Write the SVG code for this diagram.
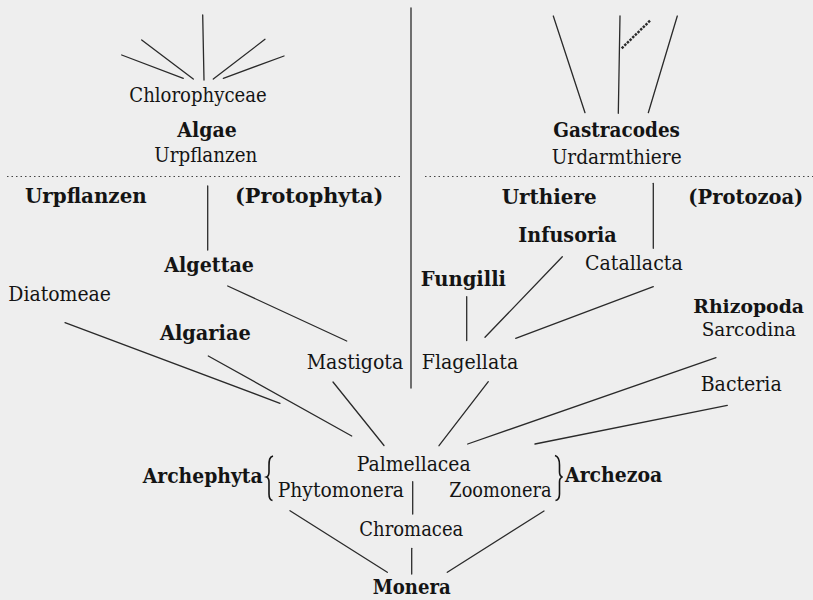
<svg xmlns="http://www.w3.org/2000/svg" width="813" height="600" viewBox="0 0 813 600">
<style>
text{font-family:"DejaVu Serif","Liberation Serif",serif;font-size:20px;fill:#141414}
.b{font-weight:bold}
.ln{stroke:#2a2a2a;stroke-width:1.3;fill:none;stroke-linecap:round}
.dot{stroke:#444;stroke-width:1.2;stroke-dasharray:1.5 3;fill:none}
.br{stroke:#141414;stroke-width:1.6;fill:none}
</style>
<rect width="813" height="600" fill="#eeeeee"/>
<g id="separators">
<line class="ln" x1="411" y1="8" x2="411" y2="388"/>
<line class="dot" x1="7" y1="176.5" x2="400" y2="176.5"/>
<line class="dot" x1="425" y1="176.5" x2="813" y2="176.5"/>
</g>
<g id="connectors">
<line class="ln" x1="121.7" y1="55" x2="183.3" y2="78.3"/>
<line class="ln" x1="141.7" y1="40" x2="193.3" y2="79"/>
<line class="ln" x1="202.7" y1="15" x2="204" y2="80"/>
<line class="ln" x1="265" y1="39.3" x2="213.3" y2="79"/>
<line class="ln" x1="284" y1="56" x2="223.3" y2="78.3"/>
<line class="ln" x1="553.3" y1="16" x2="585" y2="112.7"/>
<line class="ln" x1="620" y1="16" x2="618.3" y2="113.3"/>
<line class="ln" x1="677.3" y1="16" x2="648.3" y2="112.7"/>
<line x1="650" y1="20.7" x2="621.7" y2="48.3" stroke="#2a2a2a" stroke-width="2.4" stroke-dasharray="2.5 1.2"/>
<line class="ln" x1="207.7" y1="186" x2="207.7" y2="250"/>
<line class="ln" x1="653.3" y1="183.3" x2="653.3" y2="248.3"/>
<line class="ln" x1="227.7" y1="286" x2="346.7" y2="341"/>
<line class="ln" x1="65" y1="322.7" x2="280" y2="403.3"/>
<line class="ln" x1="208.3" y1="356" x2="351.7" y2="436"/>
<line class="ln" x1="333" y1="382" x2="384" y2="445.5"/>
<line class="ln" x1="466.7" y1="296.7" x2="466.7" y2="340.5"/>
<line class="ln" x1="562.3" y1="256.7" x2="485" y2="337.3"/>
<line class="ln" x1="653.3" y1="286.7" x2="515.7" y2="338.3"/>
<line class="ln" x1="488.3" y1="381.7" x2="439" y2="445.7"/>
<line class="ln" x1="716" y1="357.7" x2="467.7" y2="444"/>
<line class="ln" x1="727.3" y1="405.3" x2="535" y2="444"/>
<line class="ln" x1="412.7" y1="481.7" x2="412.7" y2="514"/>
<line class="ln" x1="411.7" y1="548.3" x2="411.7" y2="574"/>
<line class="ln" x1="290" y1="510.7" x2="387.3" y2="572.3"/>
<line class="ln" x1="544" y1="511" x2="447.3" y2="572.3"/>
</g>
<g id="chlorophyceae"><text x="129.3" y="101.7" textLength="137.4" lengthAdjust="spacingAndGlyphs">Chlorophyceae</text></g>
<g id="algae"><text class="b" x="177.3" y="136.7" textLength="59.4" lengthAdjust="spacingAndGlyphs">Algae</text>
<text x="154.3" y="162" textLength="103" lengthAdjust="spacingAndGlyphs">Urpflanzen</text></g>
<g id="gastracodes"><text class="b" x="553.3" y="136.7" textLength="126.7" lengthAdjust="spacingAndGlyphs">Gastracodes</text>
<text x="551.7" y="163.5" textLength="130" lengthAdjust="spacingAndGlyphs">Urdarmthiere</text></g>
<g id="urpflanzen"><text class="b" x="25" y="202.5" textLength="121.7" lengthAdjust="spacingAndGlyphs">Urpflanzen</text></g>
<g id="protophyta"><text class="b" x="235" y="202.5" textLength="148.3" lengthAdjust="spacingAndGlyphs">(Protophyta)</text></g>
<g id="urthiere"><text class="b" x="501.7" y="203.5" textLength="95" lengthAdjust="spacingAndGlyphs">Urthiere</text></g>
<g id="protozoa"><text class="b" x="688.3" y="203.5" textLength="115" lengthAdjust="spacingAndGlyphs">(Protozoa)</text></g>
<g id="infusoria"><text class="b" x="518.3" y="241.7" textLength="98.4" lengthAdjust="spacingAndGlyphs">Infusoria</text></g>
<g id="catallacta"><text x="585" y="270" textLength="97.7" lengthAdjust="spacingAndGlyphs">Catallacta</text></g>
<g id="algettae"><text class="b" x="164.3" y="272.3" textLength="89.7" lengthAdjust="spacingAndGlyphs">Algettae</text></g>
<g id="fungilli"><text class="b" x="420.7" y="285.7" textLength="85.3" lengthAdjust="spacingAndGlyphs">Fungilli</text></g>
<g id="diatomeae"><text x="8.3" y="300.7" textLength="102.7" lengthAdjust="spacingAndGlyphs">Diatomeae</text></g>
<g id="rhizopoda"><text class="b" x="693.3" y="312.5" textLength="110.7" lengthAdjust="spacingAndGlyphs" style="font-size:19px">Rhizopoda</text>
<text x="701.7" y="336" textLength="94.3" lengthAdjust="spacingAndGlyphs" style="font-size:19px">Sarcodina</text></g>
<g id="algariae"><text class="b" x="160" y="340" textLength="90.7" lengthAdjust="spacingAndGlyphs">Algariae</text></g>
<g id="mastigota"><text x="306.7" y="368.5" textLength="96.6" lengthAdjust="spacingAndGlyphs">Mastigota</text></g>
<g id="flagellata"><text x="421.7" y="368.8" textLength="96.6" lengthAdjust="spacingAndGlyphs">Flagellata</text></g>
<g id="bacteria"><text x="700.7" y="390.7" textLength="81" lengthAdjust="spacingAndGlyphs">Bacteria</text></g>
<g id="palmellacea"><text x="356.7" y="470.7" textLength="114" lengthAdjust="spacingAndGlyphs">Palmellacea</text></g>
<g id="archephyta"><text class="b" x="142.7" y="483.3" textLength="120" lengthAdjust="spacingAndGlyphs">Archephyta</text>
<path class="br" d="M273,456 C269.5,457 269,460 269,466 L269,472 C269,475 268,476.5 266.5,477 C268,477.5 269,479 269,482 L269,494 C269,498 270,500 272.5,500.5"/></g>
<g id="phytomonera"><text x="277.7" y="497.3" textLength="126.3" lengthAdjust="spacingAndGlyphs">Phytomonera</text></g>
<g id="zoomonera"><text x="449.3" y="497.3" textLength="102.4" lengthAdjust="spacingAndGlyphs">Zoomonera</text></g>
<g id="archezoa"><text class="b" x="565" y="481.7" textLength="97.3" lengthAdjust="spacingAndGlyphs">Archezoa</text>
<path class="br" d="M555,455.5 C558.5,456.5 559.5,459 559.5,465 L559.5,472 C559.5,475 560.5,476.5 562.5,477 C560.5,477.5 559.5,479 559.5,482 L559.5,494 C559.5,498 558.5,500 555.5,500.5"/></g>
<g id="chromacea"><text x="359.3" y="535.7" textLength="104" lengthAdjust="spacingAndGlyphs">Chromacea</text></g>
<g id="monera"><text class="b" x="372.7" y="594" textLength="78" lengthAdjust="spacingAndGlyphs">Monera</text></g>
</svg>
